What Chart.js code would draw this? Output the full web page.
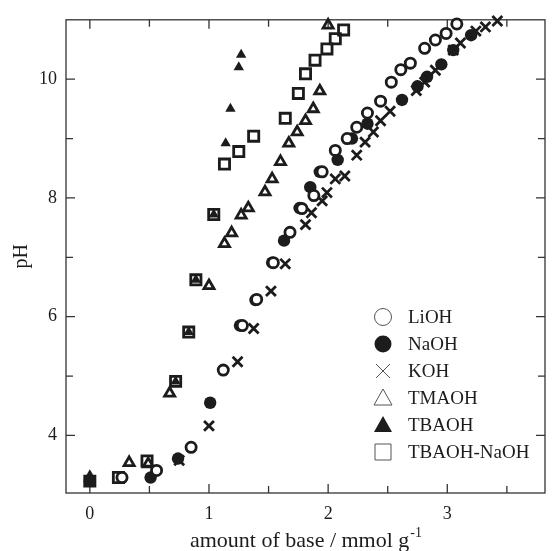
<!DOCTYPE html>
<html>
<head>
<meta charset="utf-8">
<script src="https://cdn.jsdelivr.net/npm/chart.js@4.4.0/dist/chart.umd.min.js"></script>
<style>
  html, body { margin: 0; padding: 0; background: #fff; }
</style>
</head>
<body>
<canvas id="phChart" width="555" height="551"></canvas>
<script>
// titration data: amount of base (mmol/g) vs pH
const liohBase = [0.27, 0.56, 0.85, 1.12, 1.28, 1.40, 1.54, 1.68, 1.78, 1.88, 1.95, 2.06, 2.16, 2.24, 2.33, 2.44, 2.53, 2.61, 2.69, 2.81, 2.90, 2.99, 3.08];
const liohPH   = [3.29, 3.41, 3.80, 5.10, 5.85, 6.29, 6.91, 7.42, 7.82, 8.04, 8.44, 8.80, 9.00, 9.19, 9.43, 9.63, 9.95, 10.16, 10.27, 10.52, 10.66, 10.77, 10.93];

const naohBase = [0.00, 0.51, 0.74, 1.01, 1.26, 1.39, 1.53, 1.63, 1.76, 1.85, 1.93, 2.08, 2.20, 2.33, 2.62, 2.75, 2.83, 2.95, 3.05, 3.20];
const naohPH   = [3.23, 3.29, 3.61, 4.55, 5.85, 6.28, 6.91, 7.28, 7.83, 8.18, 8.44, 8.64, 9.00, 9.25, 9.65, 9.88, 10.04, 10.25, 10.49, 10.74];

const kohBase = [0.75, 1.00, 1.24, 1.375, 1.52, 1.64, 1.81, 1.86, 1.95, 1.99, 2.06, 2.14, 2.24, 2.31, 2.38, 2.44, 2.52, 2.74, 2.81, 2.90, 3.05, 3.11, 3.24, 3.32, 3.42];
const kohPH   = [3.58, 4.16, 5.24, 5.80, 6.43, 6.89, 7.55, 7.75, 7.95, 8.09, 8.32, 8.37, 8.72, 8.94, 9.11, 9.30, 9.46, 9.81, 9.95, 10.15, 10.49, 10.61, 10.81, 10.88, 10.98];

const tmaohBase = [0.33, 0.49, 0.67, 1.00, 1.13, 1.19, 1.27, 1.33, 1.47, 1.53, 1.60, 1.67, 1.74, 1.81, 1.875, 1.93, 2.00];
const tmaohPH   = [3.54, 3.52, 4.71, 6.52, 7.23, 7.41, 7.71, 7.83, 8.10, 8.32, 8.61, 8.92, 9.11, 9.30, 9.50, 9.80, 10.91];

const tbaohBase = [0.00, 0.72, 0.83, 0.89, 1.04, 1.14, 1.18, 1.25, 1.27];
const tbaohPH   = [3.33, 4.91, 5.74, 6.62, 7.72, 8.92, 9.50, 10.20, 10.41];

const mixBase = [0.00, 0.24, 0.48, 0.72, 0.83, 0.89, 1.04, 1.13, 1.25, 1.375, 1.64, 1.75, 1.81, 1.89, 1.99, 2.06, 2.13];
const mixPH   = [3.23, 3.29, 3.57, 4.91, 5.74, 6.62, 7.72, 8.57, 8.78, 9.04, 9.34, 9.76, 10.09, 10.32, 10.51, 10.68, 10.83];

const xTicks = [0, 1, 2, 3];
const xMinor = [0.5, 1.5, 2.5, 3.5];
const yTicks = [4, 6, 8, 10];
const yMinor = [5, 7, 9];

const ink = '#1c1c1c';
const serif = "'Liberation Serif', 'DejaVu Serif', serif";

const pts = (xs, ys) => xs.map((v, i) => ({ x: v, y: ys[i] }));

// frame with inward ticks on all four sides
const frameTicks = {
  id: 'frameTicks',
  beforeDatasetsDraw(chart) {
    const { ctx, chartArea: a, scales: { x, y } } = chart;
    ctx.save();
    ctx.strokeStyle = '#333';
    ctx.lineWidth = 1.3;
    ctx.strokeRect(a.left, a.top, a.right - a.left, a.bottom - a.top);
    ctx.beginPath();
    const xt = (v, len) => {
      const px = x.getPixelForValue(v);
      ctx.moveTo(px, a.bottom); ctx.lineTo(px, a.bottom - len);
      ctx.moveTo(px, a.top); ctx.lineTo(px, a.top + len);
    };
    const yt = (v, len) => {
      const py = y.getPixelForValue(v);
      ctx.moveTo(a.left, py); ctx.lineTo(a.left + len, py);
      ctx.moveTo(a.right, py); ctx.lineTo(a.right - len, py);
    };
    xTicks.forEach(v => xt(v, 9));
    xMinor.forEach(v => xt(v, 7));
    yTicks.forEach(v => yt(v, 9));
    yMinor.forEach(v => yt(v, 7));
    ctx.stroke();

    // axis titles
    ctx.fillStyle = ink;
    ctx.textBaseline = 'alphabetic';
    const main = 'amount of base / mmol g';
    const sup = '-1';
    ctx.font = '22px ' + serif;
    const w1 = ctx.measureText(main).width;
    ctx.font = '14px ' + serif;
    const w2 = ctx.measureText(sup).width;
    const startX = (a.left + a.right) / 2 - (w1 + w2) / 2;
    ctx.font = '22px ' + serif;
    ctx.textAlign = 'left';
    ctx.fillText(main, startX, 547);
    ctx.font = '14px ' + serif;
    ctx.fillText(sup, startX + w1 + 1, 537);

    ctx.save();
    ctx.translate(27, (a.top + a.bottom) / 2);
    ctx.rotate(-Math.PI / 2);
    ctx.font = '20px ' + serif;
    ctx.textAlign = 'center';
    ctx.fillText('pH', 0, 0);
    ctx.restore();
    ctx.restore();
  }
};

// legend drawn inside the plot, thin symbols
function legendSymbol(ctx, kind, cx, cy) {
  ctx.beginPath();
  const r = 8.5;
  if (kind === 'circle' || kind === 'disc') {
    ctx.arc(cx, cy, r, 0, Math.PI * 2);
  } else if (kind === 'cross') {
    ctx.moveTo(cx - 7, cy - 7); ctx.lineTo(cx + 7, cy + 7);
    ctx.moveTo(cx + 7, cy - 7); ctx.lineTo(cx - 7, cy + 7);
  } else if (kind === 'tri' || kind === 'triFill') {
    ctx.moveTo(cx, cy - 9); ctx.lineTo(cx + 9, cy + 7); ctx.lineTo(cx - 9, cy + 7); ctx.closePath();
  } else if (kind === 'square') {
    ctx.rect(cx - 8, cy - 8, 16, 16);
  }
  if (kind === 'disc' || kind === 'triFill') {
    ctx.fillStyle = ink; ctx.fill();
  } else {
    ctx.strokeStyle = '#555'; ctx.lineWidth = 1; ctx.stroke();
  }
}

const legendKinds = ['circle', 'disc', 'cross', 'tri', 'triFill', 'square'];

const insideLegend = {
  id: 'insideLegend',
  afterDatasetsDraw(chart) {
    const { ctx } = chart;
    ctx.save();
    chart.data.datasets.forEach((ds, i) => {
      const cy = 317 + i * 27;
      legendSymbol(ctx, legendKinds[i], 383, cy);
      ctx.fillStyle = ink;
      ctx.font = '19px ' + serif;
      ctx.textAlign = 'left';
      ctx.textBaseline = 'middle';
      ctx.fillText(ds.label, 408, cy + 1);
    });
    ctx.restore();
  }
};

const ctx = document.getElementById('phChart').getContext('2d');
const phChart = new Chart(ctx, {
  type: 'scatter',
  data: {
    datasets: [
      {
        label: 'LiOH',
        data: pts(liohBase, liohPH),
        pointStyle: 'circle',
        pointRadius: 5.1,
        borderWidth: 2.8,
        borderColor: ink,
        backgroundColor: '#fff'
      },
      {
        label: 'NaOH',
        data: pts(naohBase, naohPH),
        pointStyle: 'circle',
        pointRadius: 6.2,
        borderWidth: 0,
        borderColor: ink,
        backgroundColor: ink
      },
      {
        label: 'KOH',
        data: pts(kohBase, kohPH),
        pointStyle: 'crossRot',
        pointRadius: 7,
        borderWidth: 2.8,
        borderColor: ink,
        backgroundColor: ink
      },
      {
        label: 'TMAOH',
        data: pts(tmaohBase, tmaohPH),
        pointStyle: 'triangle',
        pointRadius: 5.8,
        borderWidth: 2.8,
        borderColor: ink,
        backgroundColor: 'rgba(255,255,255,0)'
      },
      {
        label: 'TBAOH',
        data: pts(tbaohBase, tbaohPH),
        pointStyle: 'triangle',
        pointRadius: 6,
        borderWidth: 0,
        borderColor: ink,
        backgroundColor: ink
      },
      {
        label: 'TBAOH-NaOH',
        data: pts(mixBase, mixPH),
        pointStyle: 'rect',
        pointRadius: 7.2,
        borderWidth: 2.8,
        borderColor: ink,
        backgroundColor: 'rgba(255,255,255,0)'
      }
    ]
  },
  options: {
    responsive: false,
    animation: false,
    devicePixelRatio: 1,
    clip: false,
    layout: { padding: { top: 13, right: 7, left: 0, bottom: 0 } },
    plugins: {
      legend: { display: false },
      tooltip: { enabled: false }
    },
    scales: {
      x: {
        type: 'linear',
        min: -0.2,
        max: 3.82,
        afterFit: s => { s.height = 58; },
        afterBuildTicks: s => { s.ticks = xTicks.map(v => ({ value: v })); },
        grid: { display: false, drawTicks: false },
        border: { display: false },
        ticks: { color: ink, padding: 10, font: { family: serif, size: 18 } }
      },
      y: {
        type: 'linear',
        min: 3.03,
        max: 11,
        afterFit: s => { s.width = 66; },
        afterBuildTicks: s => { s.ticks = yTicks.map(v => ({ value: v })); },
        grid: { display: false, drawTicks: false },
        border: { display: false },
        ticks: { color: ink, padding: 9, font: { family: serif, size: 18 } }
      }
    }
  },
  plugins: [frameTicks, insideLegend]
});
</script>
</body>
</html>
